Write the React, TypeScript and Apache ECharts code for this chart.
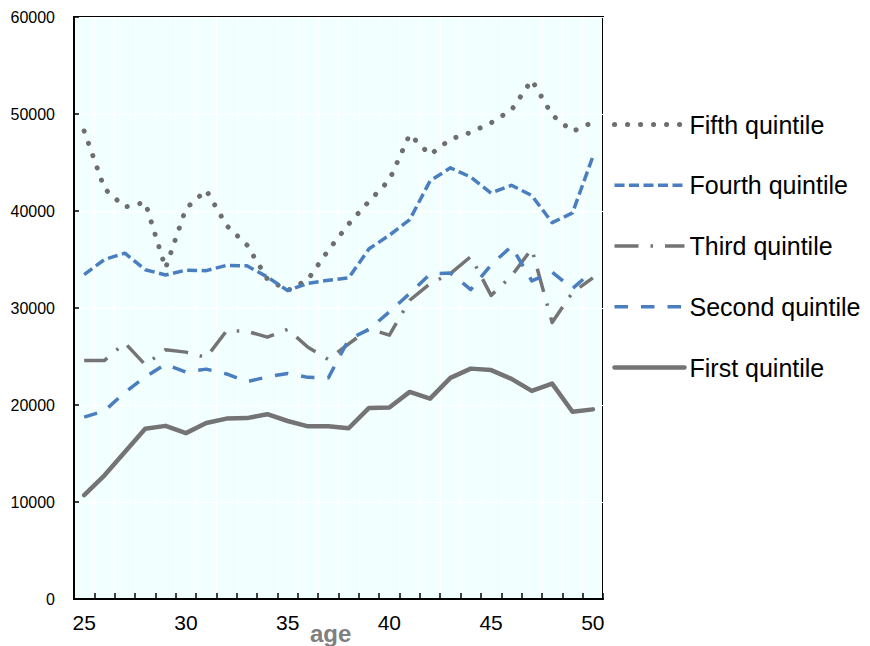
import React, { useEffect, useRef } from "react";
import * as echarts from "echarts";

// Ages on the category axis
const ages: string[] = [
  "25", "26", "27", "28", "29", "30", "31", "32", "33", "34", "35", "36", "37",
  "38", "39", "40", "41", "42", "43", "44", "45", "46", "47", "48", "49", "50",
];

// Income by age for each quintile
const fifthQuintile: number[] = [
  48250, 42300, 40400, 40900, 34100, 40250, 42150, 38500, 36500, 33000, 31800, 32950, 35950,
  38650, 41000, 43200, 47900, 45800, 47400, 48100, 49100, 50400, 53500, 49900, 48200, 49150,
];
const fourthQuintile: number[] = [
  33450, 35000, 35650, 33950, 33400, 33900, 33850, 34400, 34350, 33200, 31800, 32550, 32850,
  33100, 36100, 37500, 39100, 43100, 44450, 43500, 41850, 42650, 41600, 38800, 39800, 45600,
];
const thirdQuintile: number[] = [
  24600, 24600, 26400, 24150, 25700, 25450, 24900, 27650, 27600, 27000, 27800, 25950, 24700,
  26300, 27850, 27200, 30800, 32500, 33550, 35300, 31300, 33300, 36100, 28500, 31600, 33100,
];
const secondQuintile: number[] = [
  18750, 19400, 21300, 22900, 24200, 23400, 23700, 23200, 22400, 22900, 23250, 22850, 22800,
  26750, 27800, 29600, 31500, 33500, 33600, 31900, 34450, 36350, 32800, 33700, 32000, 33850,
];
const firstQuintile: number[] = [
  10700, 12750, 15150, 17550, 17850, 17100, 18150, 18600, 18650, 19050, 18350, 17800, 17800,
  17600, 19700, 19750, 21350, 20650, 22800, 23750, 23600, 22700, 21450, 22200, 19300, 19550,
];

const seriesNames: string[] = [
  "Fifth quintile",
  "Fourth quintile",
  "Third quintile",
  "Second quintile",
  "First quintile",
];

const GRAY = "#747474";
const BLUE = "#4A7EBF";
const FONT = "'Liberation Sans', Arial, sans-serif";

// Line look for each quintile, in the order of seriesNames
const lineLooks: any[] = [
  { color: "#6E6E6E", width: 5, type: [0.1, 12.9], cap: "round" },
  { color: BLUE, width: 3.5, type: [10, 4.5], cap: "butt" },
  { color: GRAY, width: 3.5, type: [24, 12, 2.5, 12], cap: "butt" },
  { color: BLUE, width: 3.5, type: [13.5, 13], cap: "butt" },
  { color: GRAY, width: 4.5, type: "solid", cap: "round" },
];

const seriesData: number[][] = [
  fifthQuintile,
  fourthQuintile,
  thirdQuintile,
  secondQuintile,
  firstQuintile,
];

export default function App() {
  const ref = useRef<HTMLDivElement>(null);

  useEffect(() => {
    if (!ref.current) return;
    const chart = echarts.init(ref.current, undefined, { renderer: "svg" });

    chart.setOption({
      animation: false,
      backgroundColor: "#ffffff",
      textStyle: { fontFamily: FONT },
      grid: {
        left: 74,
        right: 267,
        top: 17,
        bottom: 47,
        show: true,
        backgroundColor: "#F2FFFF",
        borderColor: "#000000",
        borderWidth: 2,
        containLabel: false,
      },
      legend: {
        orient: "vertical",
        left: 607,
        top: 107,
        itemWidth: 70,
        itemHeight: 24,
        itemGap: 35.75,
        itemStyle: { color: "transparent", borderWidth: 0, opacity: 0 },
        data: seriesNames.map((name, i) => ({
          name,
          lineStyle: {
            color: lineLooks[i].color,
            width: lineLooks[i].width,
            type: lineLooks[i].type,
            cap: lineLooks[i].cap,
          },
        })),
        textStyle: { color: "#000000", fontSize: 25, fontFamily: FONT, lineHeight: 24 },
      },
      xAxis: {
        type: "category",
        data: ages,
        boundaryGap: true,
        axisLine: { show: true, lineStyle: { color: "#000000", width: 2 } },
        axisTick: { show: true, inside: true, length: 6, interval: 0, lineStyle: { color: "#000000", width: 1.5 } },
        axisLabel: { interval: 4, color: "#000000", fontSize: 21, margin: 13, fontFamily: FONT },
        splitLine: { show: true, interval: 0, lineStyle: { color: "#ffffff", width: 1 } },
      },
      yAxis: {
        type: "value",
        min: 0,
        max: 60000,
        interval: 10000,
        axisLine: { show: true, lineStyle: { color: "#000000", width: 2 } },
        axisTick: { show: true, inside: true, length: 5, lineStyle: { color: "#000000", width: 1.5 } },
        axisLabel: {
          color: "#000000",
          fontSize: 16,
          margin: 19,
          fontFamily: FONT,
          formatter: (v: number) => String(v),
        },
        splitLine: { show: true, lineStyle: { color: "#ffffff", width: 1 } },
      },
      graphic: [
        {
          type: "text",
          left: 310,
          top: 621,
          style: {
            text: "age",
            fill: "#808080",
            font: `bold 24px ${FONT}`,
          },
        },
      ],
      series: seriesNames.map((name, i) => ({
        name,
        type: "line",
        data: seriesData[i],
        showSymbol: false,
        symbol: "none",
        lineStyle: {
          color: lineLooks[i].color,
          width: lineLooks[i].width,
          type: lineLooks[i].type,
          cap: lineLooks[i].cap,
          join: "round",
        },
        itemStyle: { color: lineLooks[i].color },
      })),
    });

    return () => chart.dispose();
  }, []);

  return (
    <div
      ref={ref}
      style={{ position: "fixed", left: 0, top: 0, width: 870, height: 646 }}
    />
  );
}
